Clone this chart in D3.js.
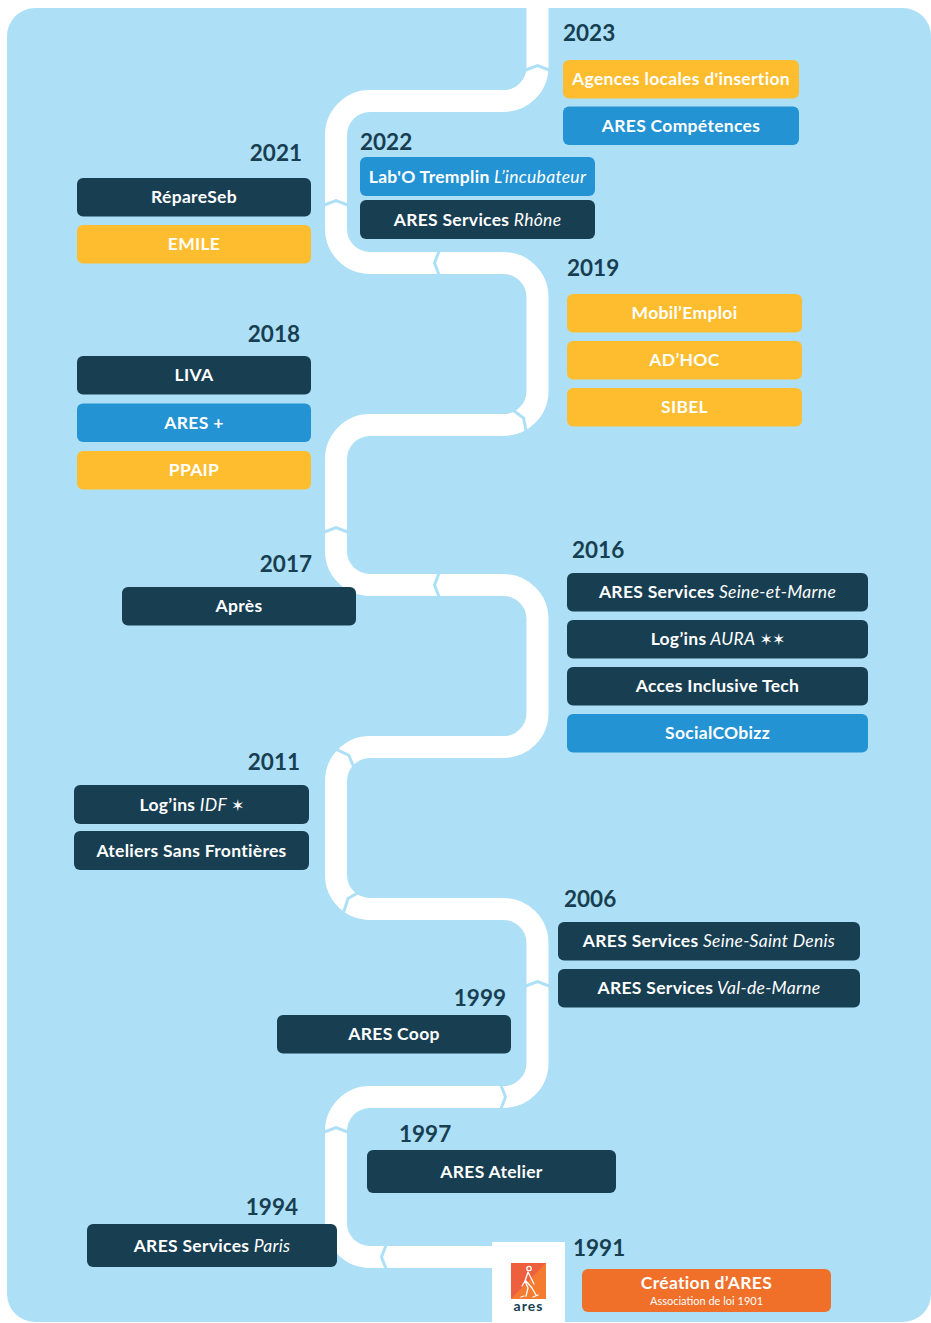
<!DOCTYPE html>
<html lang="fr">
<head>
<meta charset="UTF-8">
<script src="https://cdn.jsdelivr.net/npm/d3@7"></script>
<style>
    body{margin:0;background:#fff;}
    svg text{font-family:Lato,"Noto Sans",sans-serif;}
    .year{fill:#183e52;font-weight:700;font-size:22.5px;}
    .lbl{fill:#fff;font-weight:700;font-size:17.5px;letter-spacing:0.3px;text-anchor:middle;}
    .lbl .it{font-style:italic;font-weight:400;}
    .lbl .star{font-family:"DejaVu Sans",sans-serif;font-weight:400;font-size:16px;letter-spacing:-1px;}
</style>
<title>ARES timeline</title>
</head>
<body>
<script>
// data
var years = ["2023","2022","2021","2019","2018","2017","2016","2011","2006","1999","1997","1994","1991"];
var entryYear = ["2023","2023","2022","2022","2021","2021","2019","2019","2019","2018","2018","2018","2017",
    "2016","2016","2016","2016","2011","2011","2006","2006","1999","1997","1994","1991"];
var entryName = ["Agences locales d'insertion","ARES Compétences","Lab'O Tremplin","ARES Services","RépareSeb","EMILE",
    "Mobil’Emploi","AD’HOC","SIBEL","LIVA","ARES +","PPAIP","Après",
    "ARES Services","Log’ins","Acces Inclusive Tech","SocialCObizz","Log’ins","Ateliers Sans Frontières",
    "ARES Services","ARES Services","ARES Coop","ARES Atelier","ARES Services","Création d’ARES"];
var entryDetail = ["","","L’incubateur","Rhône","","","","","","","","","",
    "Seine-et-Marne","AURA","","","IDF","","Seine-Saint Denis","Val-de-Marne","","","Paris",""];
var entryStars = ["","","","","","","","","","","","","","","✶✶","","","✶","","","","","","",""];
var entryType = ["jaune","bleu","bleu","marine","marine","jaune","jaune","jaune","jaune","marine","bleu","jaune","marine",
    "marine","marine","marine","bleu","marine","marine","marine","marine","marine","marine","marine","orange"];
var foundingNote = "Association de loi 1901";

var types = ["jaune","bleu","marine","orange"];
var typeColors = ["#fdbd2e","#2393d4","#183e52","#f07029"];

// layout of each year group: box x, first box y, width, height, row step, year label x/y/anchor
var groupLayout = {
    "2023":{x:563,y:60,w:236,h:38.5,step:46.5,lx:563,ly:41,a:"start"},
    "2022":{x:360,y:157,w:235,h:39,step:43,lx:360,ly:150,a:"start"},
    "2021":{x:77,y:178,w:234,h:38.5,step:47,lx:302,ly:161,a:"end"},
    "2019":{x:567,y:294,w:235,h:38.5,step:47,lx:567,ly:276,a:"start"},
    "2018":{x:77,y:356,w:234,h:38.5,step:47.5,lx:300,ly:342,a:"end"},
    "2017":{x:122,y:587,w:234,h:38.5,step:47,lx:312,ly:572,a:"end"},
    "2016":{x:567,y:573,w:301,h:38.5,step:47,lx:572,ly:558,a:"start"},
    "2011":{x:74,y:785,w:235,h:39,step:46,lx:300,ly:770,a:"end"},
    "2006":{x:558,y:922,w:302,h:38.5,step:47,lx:564,ly:907,a:"start"},
    "1999":{x:277,y:1015,w:234,h:38.5,step:47,lx:506,ly:1006,a:"end"},
    "1997":{x:367,y:1150,w:249,h:43,step:47,lx:399,ly:1142,a:"start"},
    "1994":{x:87,y:1224,w:250,h:43,step:47,lx:298,ly:1215,a:"end"},
    "1991":{x:582,y:1269,w:249,h:43,step:47,lx:573,ly:1256,a:"start"}
};

// route of the white road and the little cuts between years
var route = [[537.5,-10],[537.5,101],[336,101],[336,263],[537.5,263],[537.5,425],[336,425],[336,585],
    [537.5,585],[537.5,747],[336,747],[336,909],[537.5,909],[537.5,1097],[336,1097],[336,1257],[520,1257]];
var cuts = [[537.5,68,90],[336,203,90],[437,263,0],[521.5,419.5,148],[336,530,90],[437,585,0],
    [347,757,136],[350,900,39],[537.5,984,90],[503,1097,180],[336,1130,90],[384,1257,0]];

var color = d3.scaleOrdinal().domain(types).range(typeColors);

var svg = d3.select("body").append("svg")
    .attr("width",931)
    .attr("height",1323);

svg.append("rect")
    .attr("x",7).attr("y",8)
    .attr("width",924).attr("height",1314)
    .attr("rx",28)
    .attr("fill","#ade0f6");

var p = d3.path();
p.moveTo(route[0][0],route[0][1]);
for(var i=1;i<route.length-1;i++){
    p.arcTo(route[i][0],route[i][1],route[i+1][0],route[i+1][1],34);
}
p.lineTo(route[route.length-1][0],route[route.length-1][1]);
svg.append("path")
    .attr("d",p.toString())
    .attr("fill","none")
    .attr("stroke","#fff")
    .attr("stroke-width",22);

svg.selectAll("polyline.cut")
    .data(cuts)
    .enter()
    .append("polyline")
    .attr("class","cut")
    .attr("points","2.5,-13 -2.5,0 2.5,13")
    .attr("transform",function(d){ return "translate("+d[0]+","+d[1]+") rotate("+d[2]+")"; })
    .attr("fill","none")
    .attr("stroke","#ade0f6")
    .attr("stroke-width",3);

// year labels
svg.selectAll("text.year")
    .data(years)
    .enter()
    .append("text")
    .attr("class","year")
    .attr("x",function(d){ return groupLayout[d].lx; })
    .attr("y",function(d){ return groupLayout[d].ly; })
    .attr("text-anchor",function(d){ return groupLayout[d].a; })
    .text(function(d){ return d; });

// boxes
var entries = entryName.map(function(n,i){
    var g = groupLayout[entryYear[i]];
    var rank = entryYear.slice(0,i).filter(function(y){ return y===entryYear[i]; }).length;
    var row = d3.scaleLinear().domain([0,1]).range([g.y,g.y+g.step]);
    return {name:n,detail:entryDetail[i],stars:entryStars[i],type:entryType[i],
        x:g.x,y:row(rank),w:g.w,h:g.h};
});

var box = svg.selectAll("g.entry")
    .data(entries)
    .enter()
    .append("g")
    .attr("class","entry")
    .attr("transform",function(d){ return "translate("+d.x+","+d.y+")"; });

box.append("rect")
    .attr("width",function(d){ return d.w; })
    .attr("height",function(d){ return d.h; })
    .attr("rx",6)
    .attr("fill",function(d){ return color(d.type); });

var lbl = box.append("text")
    .attr("class","lbl")
    .attr("x",function(d){ return d.w/2; })
    .attr("y",function(d){ return d.type==="orange" ? 20 : d.h/2+6; });
lbl.append("tspan").text(function(d){ return d.name; });
lbl.filter(function(d){ return d.detail; })
    .append("tspan").attr("class","it").text(function(d){ return " "+d.detail; });
lbl.filter(function(d){ return d.stars; })
    .append("tspan").attr("class","star").text(function(d){ return " "+d.stars; });

box.filter(function(d){ return d.type==="orange"; })
    .append("text")
    .attr("x",function(d){ return d.w/2; })
    .attr("y",36)
    .attr("text-anchor","middle")
    .attr("fill","#fff")
    .attr("font-size",11)
    .text(foundingNote);

// logo
var logo = svg.append("g").attr("transform","translate(492,1242)");
logo.append("rect").attr("width",73).attr("height",90).attr("fill","#fff");
logo.append("rect").attr("x",19).attr("y",21).attr("width",35).attr("height",36).attr("fill","#ee5f3e");
logo.append("path").attr("d","M54,21 L54,57 L19,57 Z").attr("fill","#f47b30");
var fig = logo.append("g")
    .attr("fill","none").attr("stroke","#fff").attr("stroke-width",1.3)
    .attr("stroke-linecap","round").attr("stroke-linejoin","round");
fig.append("circle").attr("cx",37).attr("cy",26.5).attr("r",2.2);
fig.append("path").attr("d","M36,30 L33,39 L30,44 M36,30 L40,38 L42,42 M33,39 L36,46 L34,54 M34,39 L40,46 L44,53 M29,55 L32,54 M41,55 L46,53");
logo.append("text")
    .attr("x",36.5).attr("y",69)
    .attr("text-anchor","middle")
    .attr("fill","#183e52")
    .attr("font-size",14)
    .attr("font-weight",700)
    .attr("letter-spacing",1)
    .text("ares");
</script>
</body>
</html>
